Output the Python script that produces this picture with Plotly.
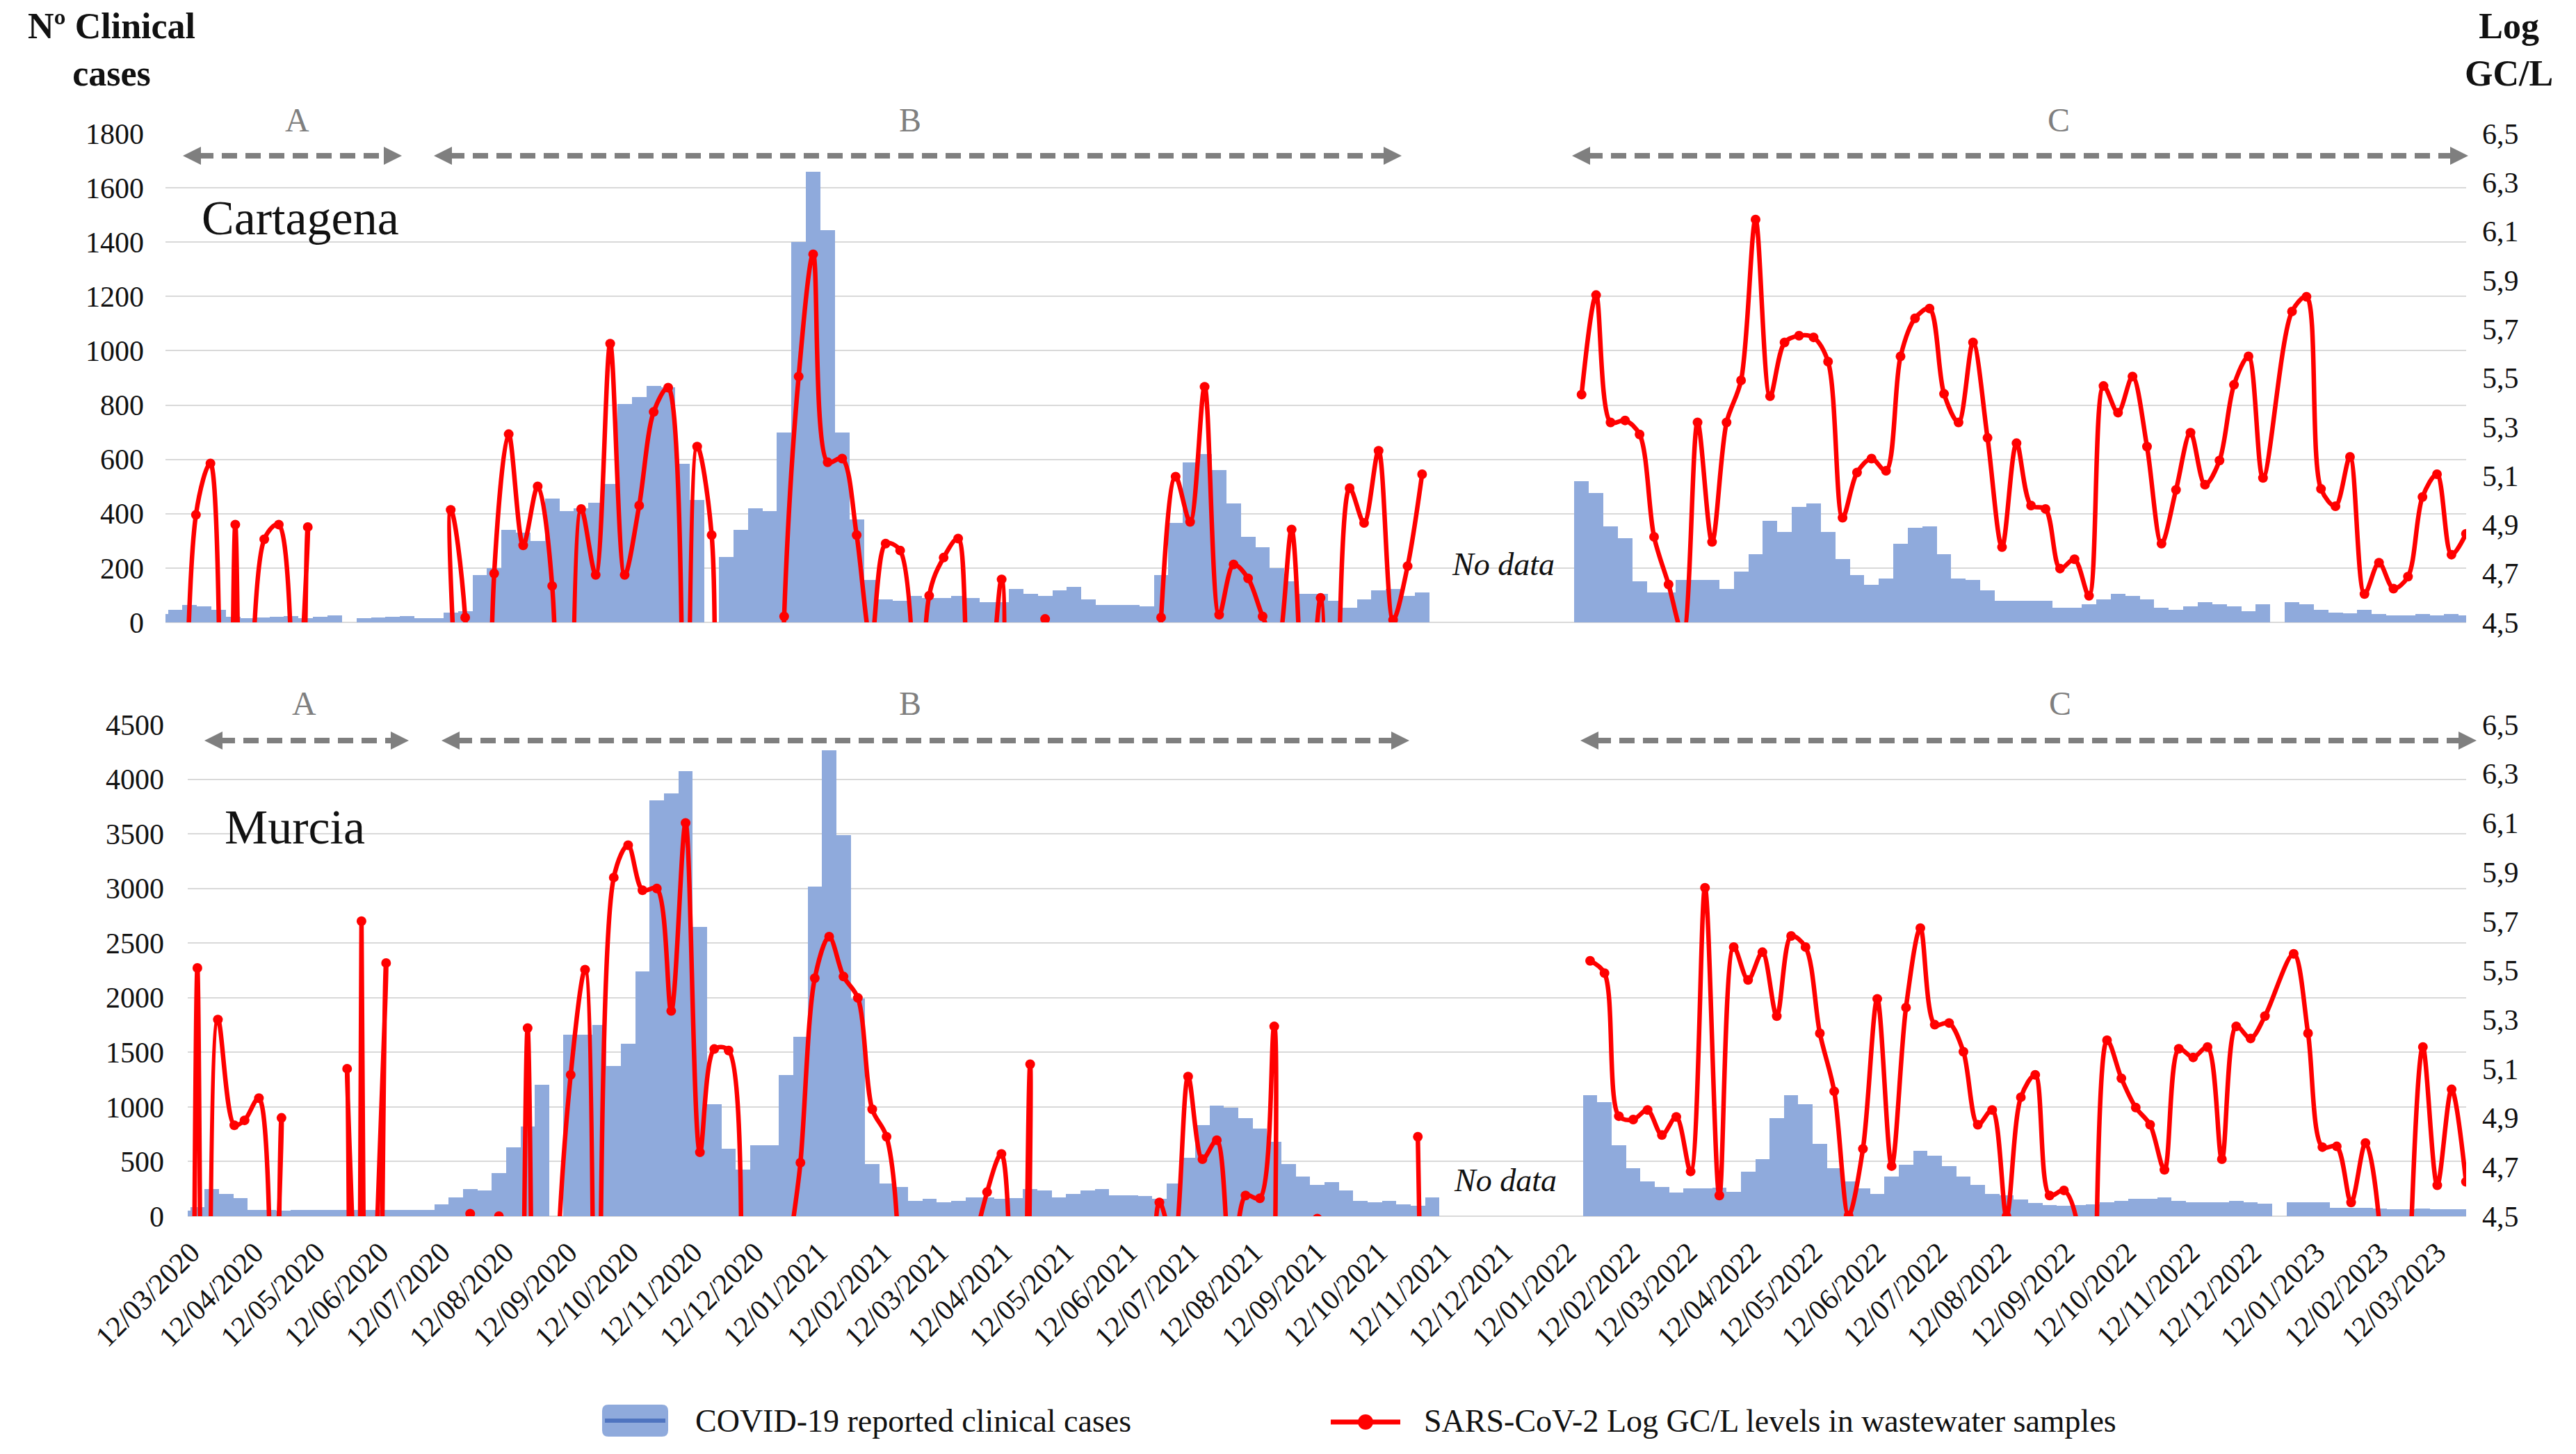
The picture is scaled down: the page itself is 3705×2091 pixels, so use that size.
import plotly.graph_objects as go
import pandas as pd

# ---------------------------------------------------------------- data
WEEK_START = "2020-03-08"          # weekly reporting dates (Sundays), k = 0..159
N_WEEKS = 160
NO_DATA_WEEKS = list(range(88, 98))  # Nov 2021 - Jan 2022 : no data
N = None

CARTAGENA_CASES = [
    30, 45, 65, 60, 47, 20, 15, 18, 20, 22,
    15, 20, 25, 0, 15, 18, 20, 22, 15, 15,
    35, 40, 175, 200, 340, 330, 300, 455, 410, 420,
    440, 510, 805, 830, 870, 865, 585, 450, 0, 240,
    340, 420, 410, 700, 1400, 1660, 1445, 700, 380, 155,
    85, 80, 98, 90, 90, 98, 90, 75, 75, 124,
    105, 98, 117, 130, 85, 63, 63, 65, 60, 175,
    365, 590, 620, 560, 437, 315, 277, 200, 150, 105,
    105, 80, 54, 85, 117, 124, 98, 111, N, N,
    N, N, N, N, N, N, N, N, 520, 475,
    354, 309, 150, 111, 111, 155, 155, 155, 124, 188,
    250, 373, 334, 424, 437, 334, 232, 175, 137, 162,
    290, 347, 354, 250, 162, 155, 117, 80, 80, 80,
    80, 54, 54, 66, 85, 105, 98, 85, 54, 47,
    60, 73, 66, 60, 41, 66, N, 73, 66, 47,
    37, 34, 47, 32, 25, 25, 30, 25, 30, 25,
]

MURCIA_CASES = [
    50, 80, 250, 205, 165, 60, 55, 50, 55, 60,
    55, 55, 60, 60, 55, 60, 55, 60, 110, 175,
    250, 235, 395, 630, 820, 1200, N, 1660, 1660, 1750,
    1375, 1580, 2240, 3805, 3870, 4075, 2650, 1025, 615, 425,
    650, 650, 1295, 1640, 3015, 4263, 3490, 1990, 475, 300,
    270, 140, 160, 125, 140, 175, 175, 160, 165, 250,
    235, 175, 205, 235, 250, 190, 190, 185, 160, 300,
    537, 837, 1010, 995, 900, 805, 680, 475, 365, 285,
    310, 235, 140, 125, 140, 110, 95, 175, N, N,
    N, N, N, N, N, N, N, N, 1105, 1042,
    647, 442, 316, 268, 215, 253, 253, 260, 221, 410,
    521, 900, 1105, 1026, 663, 442, 316, 253, 205, 363,
    474, 600, 553, 458, 363, 284, 205, 190, 150, 120,
    100, 95, 100, 110, 126, 142, 158, 158, 170, 142,
    126, 126, 126, 142, 126, 117, N, 126, 126, 126,
    79, 79, 79, 70, 65, 65, 70, 65, 65, 65,
]

# wastewater, first (irregular) sampling phase
CARTAGENA_WW_EARLY_DATES = ["2020-03-18", "2020-03-25", "2020-04-01", "2020-04-07",
                            "2020-04-13", "2020-04-20", "2020-04-27", "2020-05-04",
                            "2020-05-11", "2020-05-18", "2020-05-25"]
CARTAGENA_WW_EARLY = [0, 4.94, 5.15, 0, 4.90, 0, 4.84, 4.90, 0, 4.89, 0]

MURCIA_WW_EARLY_DATES = ["2020-03-11", "2020-03-15", "2020-03-20", "2020-03-25",
                         "2020-04-02", "2020-04-07", "2020-04-14", "2020-04-18",
                         "2020-04-25", "2020-04-30", "2020-05-23", "2020-05-27",
                         "2020-05-31", "2020-06-03", "2020-06-08", "2020-06-15",
                         "2020-06-20"]
MURCIA_WW_EARLY = [0, 5.51, 0, 5.30, 4.87, 4.89, 4.98, 0, 4.90, 0, 0, 5.10,
                   0, 5.70, 0, 5.53, 0]

# wastewater, weekly phase (same weekly dates as the cases; 0 = not detected)
CARTAGENA_WW_WEEKLY = [
    N, N, N, N, N, N, N, N, N, N,
    N, N, N, N, N, N, N, N, N, 0,
    4.96, 4.52, 0, 4.70, 5.27, 4.815, 5.056, 4.649, 0, 4.964,
    4.694, 5.64, 4.694, 4.978, 5.361, 5.46, 0, 5.219, 4.857, 0,
    0, 0, 0, 4.524, 5.506, 6.006, 5.155, 5.17, 4.857, 4.42,
    4.822, 4.794, 0, 4.609, 4.765, 4.843, 4.2, 4.25, 4.676, 0,
    0, 4.514, 0, 0, 0, 0, 0, 0, 0, 4.52,
    5.096, 4.911, 5.464, 4.531, 4.737, 4.68, 4.524, 4.4, 4.88, 4.0,
    4.6, 0, 5.049, 4.907, 5.202, 4.51, 4.73, 5.106, N, N,
    N, N, N, N, N, N, N, N, 5.432, 5.839,
    5.318, 5.326, 5.269, 4.85, 4.655, 4.45, 5.318, 4.829, 5.318, 5.49,
    6.148, 5.425, 5.645, 5.673, 5.666, 5.567, 4.928, 5.113, 5.17, 5.12,
    5.588, 5.744, 5.784, 5.435, 5.318, 5.645, 5.255, 4.808, 5.233, 4.978,
    4.964, 4.72, 4.758, 4.609, 5.467, 5.358, 5.506, 5.219, 4.822, 5.042,
    5.276, 5.063, 5.162, 5.472, 5.588, 5.091, N, 5.772, 5.832, 5.046,
    4.975, 5.177, 4.616, 4.744, 4.638, 4.687, 5.013, 5.106, 4.777, 4.862,
]

MURCIA_WW_WEEKLY = [
    N, N, N, N, N, N, N, N, N, N,
    N, N, N, N, N, N, N, N, N, 0,
    4.51, 0, 4.5, 0, 5.265, 0, 4.2, 5.075, 5.503, 0,
    5.878, 6.009, 5.826, 5.833, 5.335, 6.1, 4.76, 5.18, 5.174, 0,
    0, 0, 4.2, 4.718, 5.468, 5.637, 5.475, 5.388, 4.935, 4.823,
    4.2, 0, 0, 0, 0, 4.3, 4.598, 4.753, 0, 5.118,
    0, 0, 0, 0, 0, 0, 0, 0, 4.556, 4.39,
    5.068, 4.732, 4.809, 4.25, 4.584, 4.573, 5.272, 0, 0, 4.49,
    0, 0, 0, 0, 0, 0, 4.823, N, N, N,
    N, N, N, N, N, N, N, N, 5.539, 5.489,
    4.907, 4.893, 4.932, 4.83, 4.904, 4.682, 5.836, 4.584, 5.595, 5.461,
    5.574, 5.314, 5.64, 5.595, 5.244, 5.008, 4.503, 4.774, 5.384, 4.704,
    5.349, 5.672, 5.279, 5.286, 5.169, 4.872, 4.932, 4.5, 4.984, 5.075,
    4.584, 4.605, 4.45, 0, 5.216, 5.061, 4.942, 4.872, 4.689, 5.181,
    5.146, 5.188, 4.732, 5.272, 5.223, 5.314, N, 5.567, 5.244, 4.781,
    4.784, 4.556, 4.798, 4.45, 0, 4.15, 5.188, 4.626, 5.016, 4.64,
]

CASES_TICKS_TOP = list(range(0, 1801, 200))
CASES_TICKS_BOTTOM = list(range(0, 4501, 500))
LOG_TICKS = [4.5, 4.7, 4.9, 5.1, 5.3, 5.5, 5.7, 5.9, 6.1, 6.3, 6.5]
LOG_TICK_LABELS = ["4,5", "4,7", "4,9", "5,1", "5,3", "5,5", "5,7", "5,9", "6,1", "6,3", "6,5"]
DATE_TICKS = [f"{2020 + (m + 2) // 12}-{(m + 2) % 12 + 1:02d}-12" for m in range(37)]
DATE_TICK_LABELS = [f"12/{(m + 2) % 12 + 1:02d}/{2020 + (m + 2) // 12}" for m in range(37)]
X_RANGE = ["2020-03-10 07:00:00", "2023-03-26 02:00:00"]

# ---------------------------------------------------------------- style
W, H = 3705, 2091
BAR_COLOR = "#8FAADC"
RED = "#FF0000"
GRID = "#D9D9D9"
GREY = "#7F7F7F"
FONT = "Liberation Serif"


def fx(p):
    return p / W


def fy(p):
    return 1 - p / H


weeks = pd.date_range(WEEK_START, periods=N_WEEKS, freq="7D")


def ww_series(early_dates, early_vals, weekly_vals):
    xs = list(pd.to_datetime(early_dates))
    ys = list(early_vals)
    broken = False
    for k, v in enumerate(weekly_vals):
        if v is None:
            if k in NO_DATA_WEEKS and not broken:
                xs.append(weeks[k])
                ys.append(None)
                broken = True
            continue
        xs.append(weeks[k])
        ys.append(v)
    return xs, ys


fig = go.Figure()
WEEK_MS = 7 * 24 * 3600 * 1000

panels = [
    ("x", "y", "y2", CARTAGENA_CASES, CARTAGENA_WW_EARLY_DATES, CARTAGENA_WW_EARLY, CARTAGENA_WW_WEEKLY),
    ("x2", "y3", "y4", MURCIA_CASES, MURCIA_WW_EARLY_DATES, MURCIA_WW_EARLY, MURCIA_WW_WEEKLY),
]
for xa, ya, ya2, cases, ed, ev, wv in panels:
    fig.add_trace(go.Bar(
        x=weeks, y=cases, width=WEEK_MS, xaxis=xa, yaxis=ya,
        marker=dict(color=BAR_COLOR, line=dict(width=0)),
        name="COVID-19 reported clinical cases", showlegend=False,
    ))
    wx, wy = ww_series(ed, ev, wv)
    fig.add_trace(go.Scatter(
        x=wx, y=wy, xaxis=xa, yaxis=ya2, mode="lines+markers",
        line=dict(color=RED, width=6.5, shape="spline", smoothing=0.9),
        marker=dict(color=RED, size=14),
        connectgaps=False,
        name="SARS-CoV-2 Log GC/L levels in wastewater samples", showlegend=False,
    ))

tickfont = dict(family=FONT, size=42, color="#111111")

TOP = (895, 192)
BOT = (1749, 1042)

common_y = dict(showline=False, ticks="", tickfont=tickfont, automargin=False)

fig.update_layout(
    template="none",
    width=W, height=H, autosize=False,
    margin=dict(l=0, r=0, t=0, b=0, pad=0),
    paper_bgcolor="white", plot_bgcolor="white",
    bargap=0, barmode="overlay", showlegend=False,
    font=dict(family=FONT, color="#111111"),
    xaxis=dict(domain=[fx(238), fx(3547)], range=X_RANGE, type="date", anchor="y",
               showgrid=False, showticklabels=False, ticks="", zeroline=False, showline=False,
               automargin=False),
    yaxis=dict(domain=[fy(TOP[0]), fy(TOP[1])], range=[0, 1800], tickmode="array",
               tickvals=CASES_TICKS_TOP, showgrid=True, gridcolor=GRID, gridwidth=2,
               zeroline=True, zerolinecolor=GRID, zerolinewidth=2,
               ticklabelstandoff=30, anchor="x", **common_y),
    yaxis2=dict(overlaying="y", side="right", anchor="x", range=[4.5, 6.5], tickmode="array",
                tickvals=LOG_TICKS, ticktext=LOG_TICK_LABELS, showgrid=False, zeroline=False,
                ticklabelstandoff=22, **common_y),
    xaxis2=dict(domain=[fx(270), fx(3547)], range=X_RANGE, type="date", anchor="y3",
                showgrid=False, zeroline=False, showline=False, ticks="",
                tickmode="array", tickvals=DATE_TICKS, ticktext=DATE_TICK_LABELS,
                tickangle=-45, tickfont=tickfont, ticklabelstandoff=18, automargin=False),
    yaxis3=dict(domain=[fy(BOT[0]), fy(BOT[1])], range=[0, 4500], tickmode="array",
                tickvals=CASES_TICKS_BOTTOM, showgrid=True, gridcolor=GRID, gridwidth=2,
                zeroline=True, zerolinecolor=GRID, zerolinewidth=2,
                ticklabelstandoff=33, anchor="x2", **common_y),
    yaxis4=dict(overlaying="y3", side="right", anchor="x2", range=[4.5, 6.5], tickmode="array",
                tickvals=LOG_TICKS, ticktext=LOG_TICK_LABELS, showgrid=False, zeroline=False,
                ticklabelstandoff=22, **common_y),
)

# ---------------------------------------------------------------- decorations
shapes = []
annotations = []


def dashed_arrow(x1, x2, y):
    L, h = 26, 13
    shapes.append(dict(type="line", xref="paper", yref="paper",
                       x0=fx(x1 + L - 4), x1=fx(x2 - L + 4), y0=fy(y), y1=fy(y),
                       line=dict(color=GREY, width=8, dash="22px,12px")))
    for tip, base in ((x1, x1 + L), (x2, x2 - L)):
        path = (f"M {fx(tip)},{fy(y)} L {fx(base)},{fy(y - h)} "
                f"L {fx(base)},{fy(y + h)} Z")
        shapes.append(dict(type="path", xref="paper", yref="paper", path=path,
                           fillcolor=GREY, line=dict(width=0)))


def text(x, y, s, size, color="#111111", xanchor="center", align="center"):
    annotations.append(dict(xref="paper", yref="paper", x=fx(x), y=fy(y), text=s,
                            showarrow=False, xanchor=xanchor, yanchor="middle", align=align,
                            font=dict(family=FONT, size=size, color=color)))


# phase arrows and labels
dashed_arrow(263, 578, 224)
dashed_arrow(624, 2016, 224)
dashed_arrow(2261, 3550, 224)
dashed_arrow(294, 588, 1065)
dashed_arrow(635, 2027, 1065)
dashed_arrow(2273, 3562, 1065)
for x, y, s in [(427, 172, "A"), (1309, 172, "B"), (2961, 172, "C"),
                (437, 1011, "A"), (1309, 1011, "B"), (2963, 1011, "C")]:
    text(x, y, s, 48, color=GREY)

# axis titles
text(160, 72, "<b>Nº Clinical</b><br><b>cases</b>", 52)
text(3608, 72, "<b>Log</b><br><b>GC/L</b>", 52)

# panel names
text(288, 314, "Cartagena", 70, xanchor="left")
text(321, 1189, "Murcia", 70, xanchor="left")

# no data
text(2162, 811, "<i>No data</i>", 46)
text(2165, 1697, "<i>No data</i>", 46)

# legend (drawn)
bx0, bx1, by0, by1, r = 866, 961, 2020, 2066, 9
box = (f"M {fx(bx0 + r)},{fy(by0)} L {fx(bx1 - r)},{fy(by0)} Q {fx(bx1)},{fy(by0)} {fx(bx1)},{fy(by0 + r)} "
       f"L {fx(bx1)},{fy(by1 - r)} Q {fx(bx1)},{fy(by1)} {fx(bx1 - r)},{fy(by1)} "
       f"L {fx(bx0 + r)},{fy(by1)} Q {fx(bx0)},{fy(by1)} {fx(bx0)},{fy(by1 - r)} "
       f"L {fx(bx0)},{fy(by0 + r)} Q {fx(bx0)},{fy(by0)} {fx(bx0 + r)},{fy(by0)} Z")
shapes.append(dict(type="path", xref="paper", yref="paper", path=box,
                   fillcolor=BAR_COLOR, line=dict(width=0)))
shapes.append(dict(type="line", xref="paper", yref="paper", x0=fx(870), x1=fx(957),
                   y0=fy(2043), y1=fy(2043), line=dict(color="#4F74C0", width=6)))
text(998, 2043, "COVID-19 reported clinical cases", 46, xanchor="left")
shapes.append(dict(type="line", xref="paper", yref="paper", x0=fx(1914), x1=fx(2014),
                   y0=fy(2045), y1=fy(2045), line=dict(color=RED, width=7)))
shapes.append(dict(type="circle", xref="paper", yref="paper", x0=fx(1953), x1=fx(1975),
                   y0=fy(2056), y1=fy(2034), fillcolor=RED, line=dict(width=0)))
text(2046, 2043, "SARS-CoV-2 Log GC/L levels in wastewater samples", 46, xanchor="left")

fig.update_layout(shapes=shapes, annotations=annotations)

fig.write_html(
    "out.html",
    include_plotlyjs=True,
    full_html=True,
    config={"displayModeBar": False},
    post_script="document.body.style.margin='0';document.body.style.overflow='hidden';",
)
